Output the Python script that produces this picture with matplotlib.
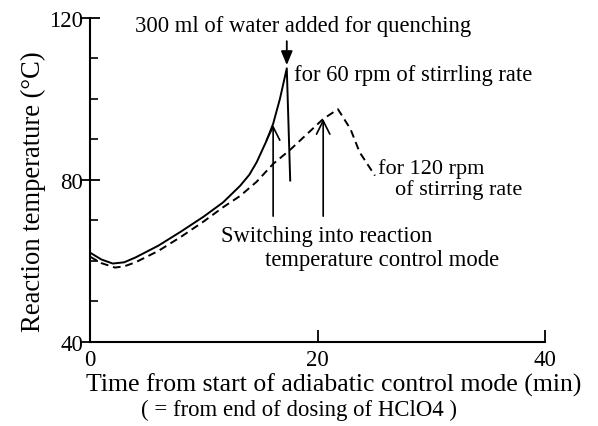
import matplotlib
matplotlib.use('Agg')
import matplotlib.pyplot as plt
from matplotlib.ticker import MultipleLocator

# 60 rpm stirring (solid); last point is the drop after quenching
t_60 = [0, 1, 2, 3, 4, 6, 8, 10, 11.7, 13.2, 14.0, 14.65, 15.5, 16.1, 16.7, 17.3, 17.6]
temp_60 = [62.0, 60.3, 59.3, 59.6, 60.8, 63.7, 67.2, 70.9, 74.4, 78.5, 81.2, 84.3, 89.5, 93.8, 100.0, 107.5, 79.8]

# 120 rpm stirring (dashed)
t_120 = [0, 1, 2.2, 3, 4, 6, 8, 10, 11.7, 13.2, 14.65, 16.1, 17.6, 20.5, 21.8, 22.9, 23.7, 25.05]
temp_120 = [61.0, 59.4, 58.3, 58.6, 59.6, 62.4, 65.9, 69.7, 73.2, 76.0, 79.5, 83.9, 87.4, 95.0, 97.4, 92.5, 86.8, 81.0]

# time of switching into reaction temperature control mode
switch_t = [16.1, 20.5]
switch_temp = [93.5, 95.0]
quench_t = 17.3
quench_temp = 108.3

plt.rcParams['font.family'] = ['Liberation Serif', 'DejaVu Serif']

fig = plt.figure(figsize=(5.98, 4.27), dpi=100)
ax = fig.add_axes([90 / 598, (427 - 342.7) / 427, 455 / 598, 324 / 427])

ax.plot(t_60, temp_60, color='black', lw=1.4)
ax.plot(t_120, temp_120, color='black', lw=1.4, ls=(0, (4, 2.5)))

ax.set_xlim(0, 40)
ax.set_ylim(40, 120)
ax.set_xticks([0, 20, 40])
ax.set_yticks([40, 80, 120])
ax.yaxis.set_minor_locator(MultipleLocator(10))
for s in ['top', 'right']:
    ax.spines[s].set_visible(False)
for s in ['left', 'bottom']:
    ax.spines[s].set_linewidth(1.5)
ax.tick_params(axis='y', which='major', direction='inout', length=14, width=1.3, labelsize=16.5, pad=-2)
ax.tick_params(axis='y', which='minor', direction='in', length=6, width=1.2)
ax.tick_params(axis='x', which='major', direction='in', length=9, width=1.3, labelsize=16.5, pad=5)

# axis titles placed directly on the figure
fig.text(334 / 598, 1 - 385 / 427, 'Time from start of adiabatic control mode (min)',
         fontsize=18.5, ha='center', va='center')
fig.text(299 / 598, 1 - 410 / 427, '( = from end of dosing of HClO4 )',
         fontsize=16.4, ha='center', va='center')
fig.text(33 / 598, 1 - 192 / 427, 'Reaction temperature (°C)',
         fontsize=19.2, ha='center', va='center', rotation=90)

# arrows
for tx, ty in zip(switch_t, switch_temp):
    ax.annotate('', xy=(tx, ty), xytext=(tx, 71),
                arrowprops=dict(arrowstyle='->,head_width=0.3,head_length=0.6', color='black', lw=1.2,
                                shrinkA=0, shrinkB=0, mutation_scale=16))
ax.annotate('', xy=(quench_t, quench_temp), xytext=(quench_t, 114.2),
            arrowprops=dict(arrowstyle='-|>,head_width=0.25,head_length=0.6', color='black', lw=1.3,
                            shrinkA=0, shrinkB=0, mutation_scale=14))

ax.text(3.96, 118.0, '300 ml of water added for quenching', fontsize=16.3,
        ha='left', va='center', clip_on=False)
ax.text(17.93, 105.9, 'for 60 rpm of stirrling rate', fontsize=16.3, ha='left', va='center')
ax.text(25.3, 83.0, 'for 120 rpm', fontsize=16.0, ha='left', va='center')
ax.text(26.8, 77.6, 'of stirring rate', fontsize=16.0, ha='left', va='center')
ax.text(11.5, 66.1, 'Switching into reaction', fontsize=16.3, ha='left', va='center')
ax.text(15.4, 60.4, 'temperature control mode', fontsize=16.3, ha='left', va='center')

fig.savefig('out.png', dpi=100)
